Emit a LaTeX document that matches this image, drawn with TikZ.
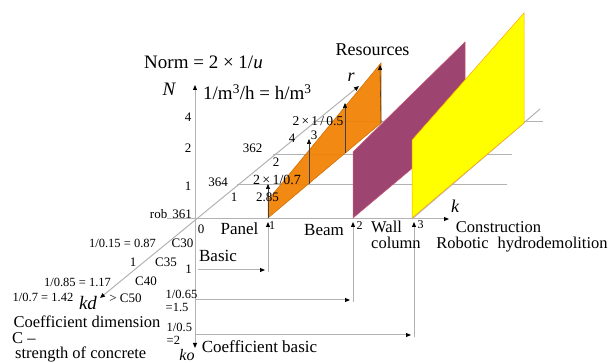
\documentclass[tikz,border=0pt]{standalone}
\usepackage{fontspec}
\setmainfont{Liberation Serif}
\usetikzlibrary{arrows.meta}
\definecolor{axisgray}{RGB}{178,178,178}
\definecolor{panelorange}{RGB}{240,128,0}
\definecolor{panelpurple}{RGB}{158,68,112}
\definecolor{panelyellow}{RGB}{255,255,0}

\begin{document}
\begin{tikzpicture}[
    x=1pt, y=-1pt,
    axis/.style={draw=axisgray, line width=1pt},
    tipb/.tip={Triangle[length=5pt, width=4pt, black]},
    arr/.style={axis, -tipb},
    bar/.style={draw=black!75, line width=0.6pt, -tipb},
    head/.style={inner sep=0pt, font=\fontsize{19}{19}\selectfont},
    lbl/.style={inner sep=0pt, font=\fontsize{17}{15}\selectfont},
    num/.style={inner sep=0pt, font=\fontsize{13}{13}\selectfont},
    tiny/.style={inner sep=0pt, font=\fontsize{12}{12}\selectfont},
    var/.style={inner sep=0pt, font=\fontsize{19}{19}\selectfont\itshape}
]
    \useasboundingbox (0,0) rectangle (616,363);

    % axes
    \coordinate (O) at (195,219);
    \coordinate (Ntop) at (195,85);
    \coordinate (Nbot) at (195,348);
    \coordinate (kL) at (167,219);
    \coordinate (kR) at (449,219);
    \coordinate (kdE) at (100,298);
    \coordinate (rE) at (359,86);

    % grid lines behind the panels
    \coordinate (g1a) at (237,185); \coordinate (g1b) at (507,185);
    \coordinate (g2a) at (273,155); \coordinate (g2b) at (512,155);
    \coordinate (g3a) at (313,122); \coordinate (g3b) at (543,122);
    \coordinate (g4a) at (412,219); \coordinate (g4b) at (540,109);
    \draw[axis] (g1a) -- (g1b);
    \draw[axis] (g2a) -- (g2b);
    \draw[axis] (g3a) -- (g3b);
    \draw[axis] (g4a) -- (g4b);

    \draw[axis, tipb-tipb] (Nbot) -- (Ntop);
    \draw[axis, tipb-tipb] (kdE) -- (rE);
    \draw[arr] (kL) -- (kR);

    % panels
    \filldraw[fill=panelorange, fill opacity=0.93, draw=panelorange!85!black, line width=0.5pt]
        (268,218) coordinate (pa1) -- (268,200) coordinate (pa2) -- (381,63) coordinate (pa3) -- (381,123) coordinate (pa4) -- cycle;
    \coordinate (q1) at (309,184); \coordinate (q1t) at (309,139);
    \coordinate (q2) at (345,153); \coordinate (q2t) at (345,103);
    \coordinate (q3t) at (380,65); \coordinate (pa0t) at (268,184);
    \draw[bar] (pa1) -- (pa0t);
    \draw[bar] (q1) -- (q1t);
    \draw[bar] (q2) -- (q2t);
    \draw[bar] (pa4) -- (q3t);

    \filldraw[fill=panelpurple, draw=panelpurple!70!red!80!white, line width=0.5pt]
        (353,218) coordinate (pb1) -- (353,152) -- (465,42) -- (465,124) -- cycle;
    \filldraw[fill=panelyellow, draw=orange!70!yellow, line width=0.5pt]
        (412,218) coordinate (pc1) -- (412,140) -- (524,13) -- (524,123) -- cycle;

    % basic coefficient connectors
    \coordinate (b1s) at (198,270); \coordinate (b1e) at (265,270);
    \coordinate (b1v) at (268,272); \coordinate (k1) at (268,222);
    \coordinate (b2s) at (196,300); \coordinate (b2e) at (350,300);
    \coordinate (b2v) at (353,302); \coordinate (k2) at (353,222);
    \coordinate (b3s) at (196,335); \coordinate (b3e) at (411,335);
    \coordinate (b3v) at (414,337); \coordinate (k3) at (414,222);
    \draw[arr] (b1s) -- (b1e);
    \draw[arr] (b1v) -- (k1);
    \draw[arr] (b2s) -- (b2e);
    \draw[arr] (b2v) -- (k2);
    \draw[arr] (b3s) -- (b3e);
    \draw[arr] (b3v) -- (k3);

    % labels
    \node[head] (norm) at (203.5,62.5) {Norm = 2 × 1/\textit{u}};
    \node[var] (Nlab) at (169,89) {N};
    \node[head, anchor=base west] (unit) at (203,100) {1/m\textsuperscript{3}/h = h/m\textsuperscript{3}};
    \node[lbl, font=\fontsize{18}{18}\selectfont] (res) at (372.5,50) {Resources};
    \node[var, font=\fontsize{18}{18}\selectfont\itshape] (rlab) at (351,77) {r};

    \node[num] (n4) at (188,117.5) {4};
    \node[num] (n2) at (188,148.5) {2};
    \node[num] (n1) at (188,186) {1};
    \node[num, anchor=base east] (rob) at (192,218.5) {rob\hspace{5pt}361};
    \node[num] (zero) at (201,229) {0};

    \node[num] (d362) at (252.5,148.5) {362};
    \node[num] (d364) at (218,182) {364};
    \node[num] (d1) at (234,197.5) {1};
    \node[num] (d2) at (276,162) {2};
    \node[num, font=\fontsize{14}{14}\selectfont] (f07) at (277,180) {2\,×\,1/0.7};
    \node[num] (v285) at (267.5,197.5) {2.85};
    \node[num] (d4) at (292,138.5) {4};
    \node[num] (d3) at (314,135) {3};
    \node[num, font=\fontsize{13.5}{13.5}\selectfont] (f05) at (318,121) {2\,×\,1\,/\,0.5};

    \node[lbl] (panel) at (239.5,229) {Panel};
    \node[tiny] (t1) at (272,226) {1};
    \node[lbl] (beam) at (324,230.5) {Beam};
    \node[tiny] (t2) at (359.5,225.5) {2};
    \node[lbl, font=\fontsize{16.5}{16}\selectfont, align=left, anchor=north west] (wall) at (371,221) {Wall\\column};
    \node[tiny] (t3) at (420.5,225) {3};
    \node[var, font=\fontsize{18}{18}\selectfont\itshape] (klab) at (455,206) {k};
    \node[lbl, font=\fontsize{16.5}{16.5}\selectfont] (constr) at (498.5,227) {Construction};
    \node[lbl, font=\fontsize{16.5}{16.5}\selectfont, anchor=base] (robot) at (522,249) {Robotic\hspace{9pt}hydrodemolition};

    \node[lbl] (basic) at (218,255.5) {Basic};
    \node[num] (c1) at (188.5,269) {1};
    \node[num, font=\fontsize{12.5}{13.5}\selectfont, align=left, anchor=west] (c15) at (165.5,301) {1/0.65\\=1.5};
    \node[num, font=\fontsize{12.5}{13.5}\selectfont, align=left, anchor=west] (c2) at (166.5,334) {1/0.5\\=2};
    \node[lbl] (cbasic) at (259.5,346.5) {Coefficient basic};
    \node[var, font=\fontsize{16}{16}\selectfont\itshape, anchor=base] (ko) at (187,360.5) {ko};

    \node[num, font=\fontsize{12.5}{12.5}\selectfont] (e087) at (122.5,243) {1/0.15 = 0.87};
    \node[num] (c30) at (182.5,243.5) {C30};
    \node[num] (e1) at (133,262.5) {1};
    \node[num] (c35) at (166,262.5) {C35};
    \node[num, font=\fontsize{12.5}{12.5}\selectfont] (e117) at (77.5,282.5) {1/0.85 = 1.17};
    \node[num] (c40) at (146,281) {C40};
    \node[num, font=\fontsize{12.5}{12.5}\selectfont] (e142) at (43,297.5) {1/0.7 = 1.42};
    \node[var] (kd) at (88,303) {kd};
    \node[num] (c50) at (125.5,298) {> C50};
    \node[lbl, font=\fontsize{16.5}{16.5}\selectfont] (cdim) at (87,321.5) {Coefficient dimension};
    \node[lbl, font=\fontsize{16.5}{16.5}\selectfont, anchor=west] (cdash) at (12,338.5) {C –};
    \node[lbl, font=\fontsize{16.5}{16.5}\selectfont, anchor=base west] (cstr) at (15,359) {strength of concrete};
\end{tikzpicture}
\end{document}
